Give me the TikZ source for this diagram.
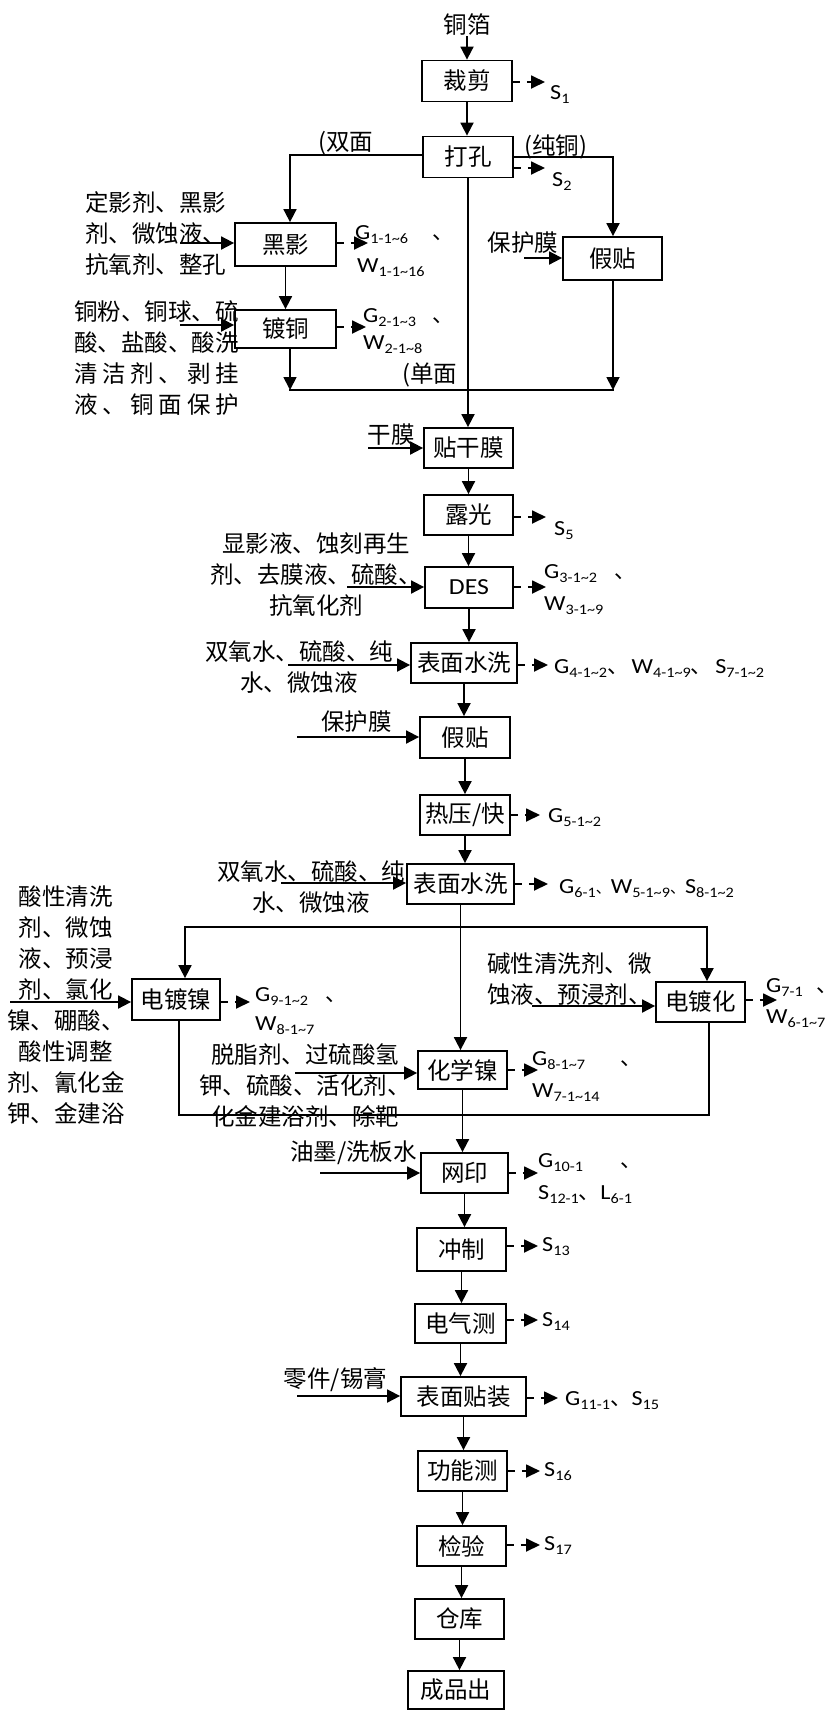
\documentclass[tikz,border=0pt]{standalone}
\usepackage{fontspec}
\setmainfont{Noto Sans CJK SC}
\newfontfamily\lat[FakeStretch=1.12]{Carlito}
\newfontfamily\cjkf{Noto Sans CJK SC}
\usetikzlibrary{arrows.meta}
\newcommand{\subx}[1]{\raisebox{-0.22em}{\fontsize{14.5}{14.5}\selectfont #1}}
\newcommand{\tld}{\textasciitilde}
\newcommand{\dunh}{{\cjkf 、}}
\newcommand{\dunsm}{{\cjkf\fontsize{15}{15}\selectfont 、}}
\begin{document}
\begin{tikzpicture}[x=1pt,y=-1pt,
 box/.style={draw,line width=1.8pt,inner sep=0pt,font=\fontsize{23.5}{28}\selectfont},
 txt/.style={inner sep=0pt,font=\fontsize{23.5}{31}\selectfont,align=center},
 olab/.style={inner sep=0pt,anchor=base west,font=\fontsize{21.5}{21.5}\selectfont\lat},
 arr/.style={line width=1.8pt,-{Triangle[length=13pt,width=13pt]}},
 bus/.style={line width=2.7pt,line cap=rect},
 vline/.style={line width=1.9pt},
 oarr/.style={line width=1.8pt,dash pattern=on 7pt off 7pt,-{Triangle[length=14pt,width=13pt]}}]
\useasboundingbox (0,0) rectangle (839,1711);

% ---------- boxes ----------
\node[txt] (tongbo) at (467,25) {铜箔};
\node[box,minimum width=90pt,minimum height=41pt] (cj) at (467,81) {裁剪};
\node[box,minimum width=90pt,minimum height=41pt] (dk) at (468,157) {打孔};
\node[box,minimum width=101pt,minimum height=43pt] (hy) at (285.5,244.5) {黑影};
\node[box,minimum width=101pt,minimum height=38pt] (dt) at (285.5,329) {镀铜};
\node[box,minimum width=99pt,minimum height=43pt] (jt1) at (612.5,258.5) {假贴};
\node[box,minimum width=89pt,minimum height=40pt] (tgm) at (468.5,448) {贴干膜};
\node[box,minimum width=89pt,minimum height=40pt] (lg) at (468.5,515) {露光};
\node[box,minimum width=88pt,minimum height=41pt,font=\fontsize{23}{28}\selectfont\lat] (des) at (469,587.5) {DES};
\node[box,minimum width=106pt,minimum height=40pt] (bm1) at (464,663) {表面水洗};
\node[box,minimum width=90pt,minimum height=41pt] (jt2) at (465,737.5) {假贴};
\node[box,minimum width=90pt,minimum height=40pt] (ry) at (465,815) {热压/快};
\node[box,minimum width=107pt,minimum height=40pt] (bm2) at (460.5,884) {表面水洗};
\node[box,minimum width=88pt,minimum height=41pt] (ddn) at (176,999.5) {电镀镍};
\node[box,minimum width=89pt,minimum height=40pt] (ddh) at (700.5,1002) {电镀化};
\node[box,minimum width=89pt,minimum height=38pt] (hxn) at (462.5,1070) {化学镍};
\node[box,minimum width=87pt,minimum height=40pt] (wy) at (464.5,1173) {网印};
\node[box,minimum width=89pt,minimum height=43pt] (cz) at (461.5,1249.5) {冲制};
\node[box,minimum width=91pt,minimum height=39pt] (dqc) at (460.5,1323.5) {电气测};
\node[box,minimum width=125pt,minimum height=39pt] (bmtz) at (463.5,1396.5) {表面贴装};
\node[box,minimum width=89pt,minimum height=40pt] (gnc) at (462.5,1471) {功能测};
\node[box,minimum width=89pt,minimum height=40pt] (jy) at (461.5,1546) {检验};
\node[box,minimum width=89pt,minimum height=40pt] (ck) at (459.5,1619) {仓库};
\node[box,minimum width=96pt,minimum height=38pt] (cpc) at (456,1690) {成品出};

% ---------- spine ----------
\draw[arr] (tongbo.south -| cj.north) -- (cj.north);
\foreach \a/\b in {cj/dk,dk/tgm,tgm/lg,lg/des,des/bm1,bm1/jt2,jt2/ry,ry/bm2,bm2/hxn,hxn/wy,wy/cz,cz/dqc,dqc/bmtz,bmtz/gnc,gnc/jy,jy/ck,ck/cpc}
  \draw[arr] (\a.south) -- (\a.south |- \b.north);

% ---------- top branches ----------
\coordinate (bl) at (290,155);
\coordinate (br) at (613,157);
\draw[bus] (dk.west |- bl) -- (bl);
\draw[arr] (bl) -- (bl |- hy.north);
\draw[bus] (dk.east |- br) -- (br);
\draw[arr] (br) -- (br |- jt1.north);
\draw[arr] (hy.south) -- (hy.south |- dt.north);
\coordinate (ml) at (290,390);
\coordinate (mr) at (613,390);
\draw[arr] (ml |- dt.south) -- (ml);
\draw[arr] (mr |- jt1.south) -- (mr);
\draw[bus] (ml) -- (mr);
\node[txt,anchor=west] (lsm) at (318,143) {(双面};
\node[txt,anchor=west] (lct) at (524,147) {(纯铜)};
\node[txt,anchor=west] (ldm) at (402,375) {(单面};

% ---------- middle buses ----------
\coordinate (uL) at (185,927);
\coordinate (uR) at (707,927);
\draw[bus] (uL) -- (uR);
\draw[arr] (uL) -- (uL |- ddn.north);
\draw[arr] (uR) -- (uR |- ddh.north);
\coordinate (lL) at (179,1115);
\coordinate (lR) at (709,1115);
\draw[vline] (lL |- ddn.south) -- (lL);
\draw[vline] (lR |- ddh.south) -- (lR);
\draw[bus] (lL) -- (lR);

% ---------- inputs ----------
\node[txt,anchor=west,align=left] (in1) at (85,233.5) {定影剂、黑影\\剂、微蚀液、\\抗氧剂、整孔};
\coordinate (a1) at (180,243);
\draw[arr] (a1) -- (a1 -| hy.west);

\node[txt,anchor=west,align=left] (in2) at (74,358) {铜粉、铜球、硫\\酸、盐酸、酸洗\\\makebox[164.5pt][s]{清\hfill 洁\hfill 剂\hfill 、\hfill 剥\hfill 挂}\\\makebox[164.5pt][s]{液\hfill 、\hfill 铜\hfill 面\hfill 保\hfill 护}};
\coordinate (a2) at (180,325);
\draw[arr] (a2) -- (a2 -| dt.west);

\node[txt] (in3) at (523,243) {保护膜};
\coordinate (a3) at (524,258);
\draw[arr] (a3) -- (a3 -| jt1.west);

\node[txt] (in4) at (391,435) {干膜};
\coordinate (a4) at (368,448);
\draw[arr] (a4) -- (a4 -| tgm.west);

\node[txt] (in5) at (316,575) {显影液、蚀刻再生\\剂、去膜液、硫酸、\\抗氧化剂};
\coordinate (a5) at (347,587);
\draw[arr] (a5) -- (a5 -| des.west);

\node[txt] (in6) at (299,667.5) {双氧水、硫酸、纯\\水、微蚀液};
\coordinate (a6) at (288,665);
\draw[arr] (a6) -- (a6 -| bm1.west);

\node[txt] (in7) at (356.5,722) {保护膜};
\coordinate (a7) at (297,737);
\draw[arr] (a7) -- (a7 -| jt2.west);

\node[txt] (in8) at (311,887) {双氧水、硫酸、纯\\水、微蚀液};
\coordinate (a8) at (281,883);
\draw[arr] (a8) -- (a8 -| bm2.west);

\node[txt] (in9) at (66,1005) {酸性清洗\\剂、微蚀\\液、预浸\\剂、氯化\\镍、硼酸、\\酸性调整\\剂、氰化金\\钾、金建浴};
\coordinate (a9) at (10,1002);
\draw[arr] (a9) -- (a9 -| ddn.west);

\node[txt,anchor=west,align=left] (in10) at (487,979) {碱性清洗剂、微\\蚀液、预浸剂、};
\coordinate (a10) at (532,1006);
\draw[arr] (a10) -- (a10 -| ddh.west);

\node[txt] (in11) at (305,1086) {脱脂剂、过硫酸氢\\钾、硫酸、活化剂、\\化金建浴剂、除靶};
\coordinate (a11) at (295,1073);
\draw[arr] (a11) -- (a11 -| hxn.west);

\node[txt] (in12) at (353.5,1153) {油墨/洗板水};
\coordinate (a12) at (320,1173);
\draw[arr] (a12) -- (a12 -| wy.west);

\node[txt] (in13) at (335.5,1380) {零件/锡膏};
\coordinate (a13) at (297,1396);
\draw[arr] (a13) -- (a13 -| bmtz.west);

% ---------- outputs ----------
\coordinate (t1) at (545,82);   \draw[oarr] (cj.east |- t1) -- (t1);
\coordinate (t2) at (545,168);  \draw[oarr] (dk.east |- t2) -- (t2);
\coordinate (t3) at (368,243);  \draw[oarr] (hy.east |- t3) -- (t3);
\coordinate (t4) at (366,327);  \draw[oarr] (dt.east |- t4) -- (t4);
\coordinate (t5) at (546,517);  \draw[oarr] (lg.east |- t5) -- (t5);
\coordinate (t6) at (546,587);  \draw[oarr] (des.east |- t6) -- (t6);
\coordinate (t7) at (548,665);  \draw[oarr] (bm1.east |- t7) -- (t7);
\coordinate (t8) at (540,815);  \draw[oarr] (ry.east |- t8) -- (t8);
\coordinate (t9) at (548,884);  \draw[oarr] (bm2.east |- t9) -- (t9);
\coordinate (t10) at (250,1002); \draw[oarr] (ddn.east |- t10) -- (t10);
\coordinate (t11) at (777,1000); \draw[oarr] (ddh.east |- t11) -- (t11);
\coordinate (t12) at (538,1070); \draw[oarr] (hxn.east |- t12) -- (t12);
\coordinate (t13) at (538,1173); \draw[oarr] (wy.east |- t13) -- (t13);
\coordinate (t14) at (538,1246); \draw[oarr] (cz.east |- t14) -- (t14);
\coordinate (t15) at (538,1320); \draw[oarr] (dqc.east |- t15) -- (t15);
\coordinate (t16) at (558,1398); \draw[oarr] (bmtz.east |- t16) -- (t16);
\coordinate (t17) at (540,1471); \draw[oarr] (gnc.east |- t17) -- (t17);
\coordinate (t18) at (540,1545); \draw[oarr] (jy.east |- t18) -- (t18);

\node[olab] (o1) at (550,99) {S\subx{1}};
\node[olab] (o2) at (552,186) {S\subx{2}};
\node[olab] (o3a) at (355,239) {G\subx{1-1\tld6}};
\node[olab] (o3b) at (432,239) {\dunh};
\node[olab] (o3c) at (357,272) {W\subx{1-1\tld16}};
\node[olab] (o4a) at (363,322) {G\subx{2-1\tld3}};
\node[olab] (o4b) at (432,322) {\dunh};
\node[olab] (o4c) at (363,349) {W\subx{2-1\tld8}};
\node[olab] (o5) at (554,535) {S\subx{5}};
\node[olab] (o6a) at (544,578) {G\subx{3-1\tld2}};
\node[olab] (o6b) at (614,578) {\dunh};
\node[olab] (o6c) at (544,610) {W\subx{3-1\tld9}};
\node[olab] (o7) at (554,673) {G\subx{4-1\tld2}\dunh\hspace{3pt}W\subx{4-1\tld9}\dunh\hspace{3pt}S\subx{7-1\tld2}};
\node[olab] (o8) at (548,822) {G\subx{5-1\tld2}};
\node[olab] (o9) at (559,893) {G\subx{6-1}\dunsm W\subx{5-1\tld9}\dunsm S\subx{8-1\tld2}};
\node[olab] (o10a) at (255,1001) {G\subx{9-1\tld2}};
\node[olab] (o10b) at (325,1001) {\dunh};
\node[olab] (o10c) at (255,1030) {W\subx{8-1\tld7}};
\node[olab] (o11a) at (766,992) {G\subx{7-1}};
\node[olab] (o11b) at (816,992) {\dunh};
\node[olab] (o11c) at (766,1023) {W\subx{6-1\tld7}};
\node[olab] (o12a) at (532,1065) {G\subx{8-1\tld7}};
\node[olab] (o12b) at (620,1065) {\dunh};
\node[olab] (o12c) at (532,1097) {W\subx{7-1\tld14}};
\node[olab] (o13a) at (538,1167) {G\subx{10-1}};
\node[olab] (o13b) at (620,1167) {\dunh};
\node[olab] (o13c) at (538,1199) {S\subx{12-1}\dunh L\subx{6-1}};
\node[olab] (o14) at (542,1251) {S\subx{13}};
\node[olab] (o15) at (542,1326) {S\subx{14}};
\node[olab] (o16) at (565,1405) {G\subx{11-1}\dunh S\subx{15}};
\node[olab] (o17) at (544,1476) {S\subx{16}};
\node[olab] (o18) at (544,1550) {S\subx{17}};
\end{tikzpicture}
\end{document}
